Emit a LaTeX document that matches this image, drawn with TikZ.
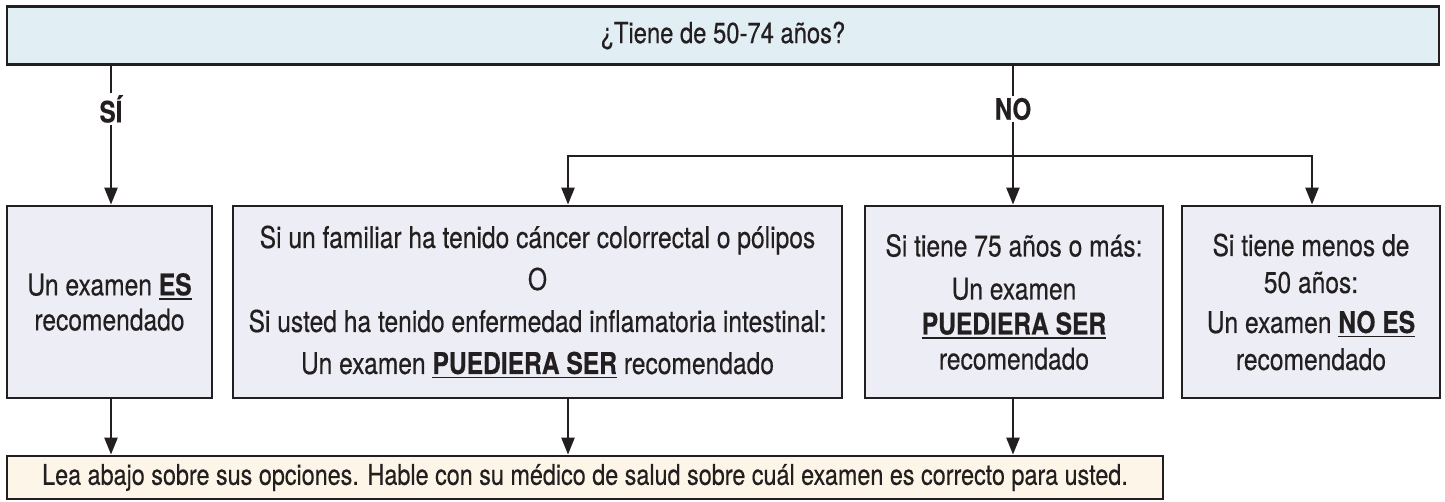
\documentclass[tikz,border=0pt]{standalone}
\usepackage{fontspec}
\setmainfont{TeX Gyre Heros}[FakeStretch=0.82, FakeBold=0.4]
\usetikzlibrary{arrows.meta}
\definecolor{ink}{HTML}{231F20}
\definecolor{topfill}{HTML}{E1EEF4}
\definecolor{midfill}{HTML}{EDEEF5}
\definecolor{botfill}{HTML}{FDF6E8}
\newsavebox{\ulbox}
\newcommand{\myul}[1]{\sbox{\ulbox}{#1}\makebox[0pt][l]{\rule[-4.5pt]{\wd\ulbox}{1.8pt}}\usebox{\ulbox}\relax}
\tikzset{
  boxst/.style={draw=ink, line width=2.8pt, text=ink, align=center, inner sep=0pt,
    font=\fontsize{30}{35}\selectfont},
  conn/.style={draw=ink, line width=2.5pt},
  arr/.style={conn, -{Triangle[width=13pt,length=17pt]}},
  lbl/.style={text=ink, font=\fontsize{29.5}{32}\selectfont\bfseries, inner sep=2pt}
}
\begin{document}
\begin{tikzpicture}[x=1pt,y=-1pt]
\useasboundingbox (0,0) rectangle (1445,502);
\node[boxst, fill=topfill, minimum width=1432pt, minimum height=58pt, font=\fontsize{29}{32}\selectfont] (top) at (723,35.5) {¿Tiene de 50-74 años?};
\node[boxst, fill=midfill, minimum width=205pt, minimum height=192pt] (b1) at (109.5,302)
  {Un examen \myul{\textbf{ES}}\\recomendado};
\node[boxst, fill=midfill, minimum width=609pt, minimum height=192pt] (b2) at (537.5,302)
  {Si un familiar ha tenido cáncer colorrectal o pólipos\\[7pt]O\\[7pt]Si usted ha tenido enfermedad inflamatoria intestinal:\\[7pt]Un examen \myul{\textbf{PUEDIERA SER}} recomendado};
\node[boxst, fill=midfill, minimum width=298pt, minimum height=192pt] (b3) at (1014,302)
  {Si tiene 75 años o más:\\[8pt]Un examen\\\myul{\textbf{PUEDIERA SER}}\\recomendado};
\node[boxst, fill=midfill, minimum width=258pt, minimum height=192pt, font=\fontsize{30}{37}\selectfont] (b4) at (1311,302)
  {Si tiene menos de\\50 años:\\[3pt]Un examen \myul{\textbf{NO ES}}\\recomendado};
\node[boxst, fill=botfill, minimum width=1156pt, minimum height=43pt, font=\fontsize{28.5}{32}\selectfont] (bot) at (585,477.5)
  {Lea abajo sobre sus opciones. Hable con su médico de salud sobre cuál examen es correcto para usted.};
\node[lbl] (si) at (111,109) {SÍ};
\node[lbl] (no) at (1013,109) {NO};
\coordinate (jL) at (568,156);
\coordinate (jR) at (1312,156);
\draw[conn] (top.south -| si) -- (si.north);
\draw[arr] (si.south) -- (si.south |- b1.north);
\draw[conn] (top.south -| no) -- (no.north);
\draw[arr] (no.south) -- (no.south |- b3.north);
\draw[conn, {Triangle[width=13pt,length=17pt]}-{Triangle[width=13pt,length=17pt]}]
  (jL |- b2.north) -- (jL) -- (jR) -- (jR |- b4.north);
\draw[arr] (b1.south -| si) -- (si |- bot.north);
\draw[arr] (b2.south -| jL) -- (jL |- bot.north);
\draw[arr] (b3.south -| no) -- (no |- bot.north);
\end{tikzpicture}
\end{document}
